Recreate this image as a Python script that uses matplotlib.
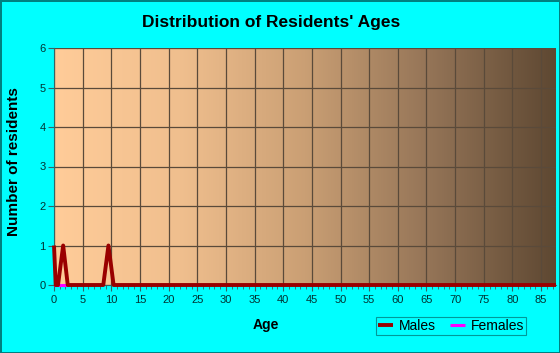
import matplotlib.pyplot as plt
import numpy as np
from matplotlib.colors import LinearSegmentedColormap

# data
male_age = [0, 0.3, 0.7, 1.6, 2.4, 8.6, 9.5, 10.4, 87.6]
male_count = [1, 0, 0, 1, 0, 0, 1, 0, 0]
female_age = [0, 2.4]
female_count = [0, 0]
x_ticks = list(range(0, 90, 5))
y_ticks = [0, 1, 2, 3, 4, 5, 6]

plt.rcParams['font.family'] = ['Liberation Sans', 'DejaVu Sans']

fig = plt.figure(figsize=(5.6, 3.53), dpi=100)
fig.patch.set_facecolor('#00FFFF')
fig.patch.set_edgecolor('#008080')
fig.patch.set_linewidth(2)
ax = fig.add_axes([54/560, 1-285/353, 502/560, 237/353])

xmax = 87.6
grad = LinearSegmentedColormap.from_list(
    'bg', [(0, '#FFCC99'), (0.25, '#F0BF8E'), (0.5, '#CA9F74'),
           (0.75, '#947457'), (1, '#5E4832')])
ax.imshow(np.linspace(0, 1, 256).reshape(1, -1), cmap=grad, aspect='auto',
          extent=[0, xmax, 0, 6], zorder=0)

ax.plot(female_age, female_count, color='#FF00FF', lw=2.2, clip_on=False, zorder=3,
        label='Females', solid_capstyle='butt')
ax.plot(male_age, male_count, color='#990000', lw=2.8, clip_on=False, zorder=4,
        label='Males', solid_capstyle='butt')

ax.set_xlim(0, xmax)
ax.set_ylim(0, 6)
ax.set_xticks(x_ticks)
ax.set_xticks(range(0, 88), minor=True)
ax.set_yticks(y_ticks)
ax.grid(True, color='#5A4A3A', lw=0.9)
ax.set_axisbelow(True)
for s in ['top', 'right']:
    ax.spines[s].set_visible(False)
ax.spines['left'].set_color('#336666')
ax.spines['bottom'].set_color('#336666')
ax.tick_params(axis='both', which='both', colors='#336666', labelcolor='#003333',
               labelsize=8, direction='out')
ax.tick_params(axis='x', which='major', length=4, pad=3)
ax.tick_params(axis='x', which='minor', length=3)
ax.tick_params(axis='y', length=4, pad=2)

fig.text(0.485, 1-23/353, "Distribution of Residents' Ages", ha='center', va='center',
         fontsize=12.5, fontweight='bold', color='#000000')
fig.text(266/560, 1-325/353, 'Age', ha='center', va='center', fontsize=10,
         fontweight='bold')
fig.text(14/560, 1-162/353, 'Number of residents', ha='center', va='center',
         rotation=90, fontsize=11, fontweight='bold')

handles, labels = ax.get_legend_handles_labels()
leg = fig.legend(handles[::-1], labels[::-1], loc='center', ncol=2,
                 bbox_to_anchor=(451/560, 1-326/353), frameon=True, fontsize=10,
                 handlelength=1.1, columnspacing=1.0, handletextpad=0.4,
                 borderpad=0.15, fancybox=False)
leg.get_frame().set_facecolor('#00FFFF')
leg.get_frame().set_edgecolor('#008080')
leg.get_frame().set_linewidth(0.8)

fig.savefig('out.png', dpi=100, facecolor=fig.get_facecolor(), edgecolor=fig.get_edgecolor())
